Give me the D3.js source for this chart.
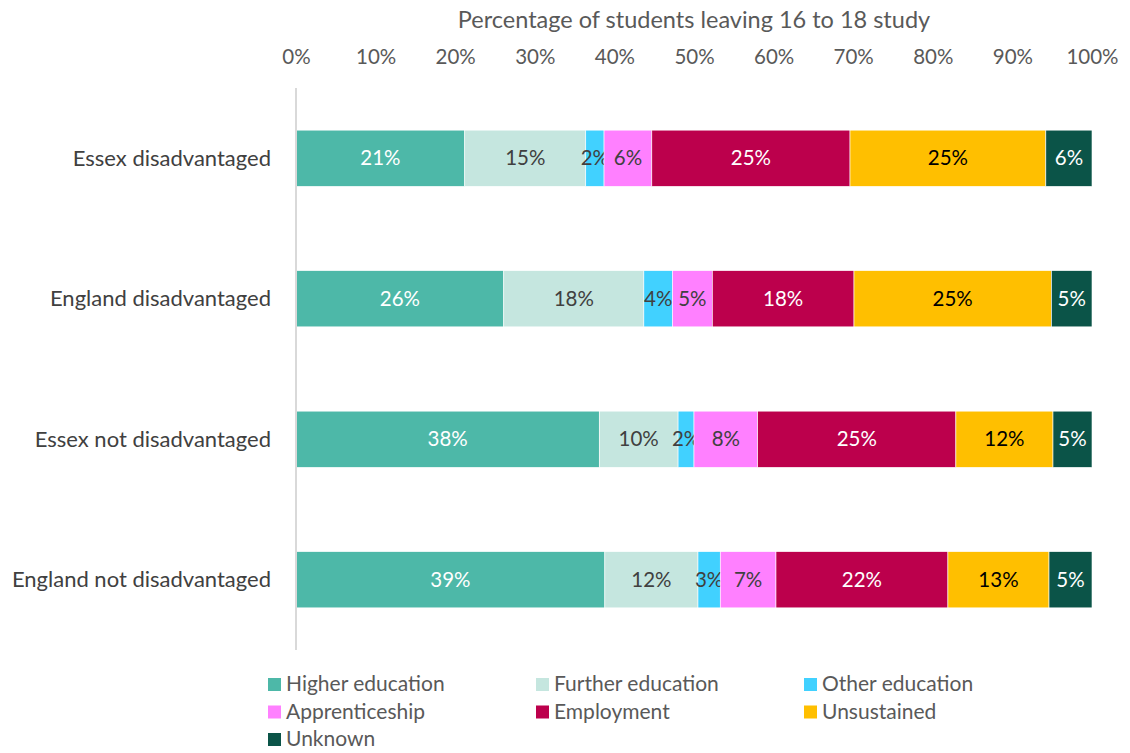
<!DOCTYPE html>
<html>
<head>
<meta charset="utf-8">
<script src="https://cdn.jsdelivr.net/npm/d3@7"></script>
<style>
  body { margin: 0; background: #fff; }
  text { font-family: Lato, "Open Sans", sans-serif; }
</style>
</head>
<body>
<script>
// categories (top to bottom)
var categories = ["Essex disadvantaged", "England disadvantaged", "Essex not disadvantaged", "England not disadvantaged"];
var seriesNames = ["Higher education", "Further education", "Other education", "Apprenticeship", "Employment", "Unsustained", "Unknown"];

// percentages per series, one value per category
var higherEd    = [21.2, 26.1, 38.1, 38.8];
var furtherEd   = [15.2, 17.6, 9.9, 11.7];
var otherEd     = [2.3, 3.6, 2.0, 2.8];
var apprentice  = [6.0, 5.0, 8.0, 7.0];
var employment  = [24.9, 17.8, 24.9, 21.6];
var unsustained = [24.6, 24.8, 12.2, 12.7];
var unknown     = [5.8, 5.1, 4.9, 5.4];

var xTicks = [0, 10, 20, 30, 40, 50, 60, 70, 80, 90, 100];

var colors = ["#4db8a8", "#c5e6df", "#41d1ff", "#ff80ff", "#bc004c", "#ffbf00", "#0b5448"];
var labelColors = ["#ffffff", "#404040", "#404040", "#404040", "#ffffff", "#000000", "#ffffff"];

var seriesVals = [higherEd, furtherEd, otherEd, apprentice, employment, unsustained, unknown];

// build rows for the stack
var rows = categories.map(function(c, i) {
    var r = {cat: c};
    seriesNames.forEach(function(s, j) { r[s] = seriesVals[j][i]; });
    return r;
});

var W = 1130, H = 753;
var margin = {top: 88, right: 38, bottom: 103, left: 296};
var width = W - margin.left - margin.right,
    height = H - margin.top - margin.bottom;

var svg = d3.select("body").append("svg")
    .attr("width", W)
    .attr("height", H);

var g = svg.append("g")
    .attr("transform", "translate(" + margin.left + "," + margin.top + ")");

var x = d3.scaleLinear().domain([0, 100]).range([0, width]);
var y = d3.scaleBand().domain(categories).range([0, height]).paddingInner(0.6).paddingOuter(0.3);

var stacked = d3.stack().keys(seriesNames)(rows);

// bars
var layers = g.selectAll(".layer")
    .data(stacked)
    .enter().append("g")
    .attr("class", "layer")
    .attr("fill", function(d, i) { return colors[i]; });

layers.selectAll("rect")
    .data(function(d) { return d; })
    .enter().append("rect")
    .attr("x", function(d) { return x(d[0]); })
    .attr("y", function(d) { return y(d.data.cat); })
    .attr("width", function(d) { return x(d[1]) - x(d[0]); })
    .attr("height", y.bandwidth())
    .attr("stroke", "#ffffff")
    .attr("stroke-width", 0.6);

// data labels
layers.each(function(s, i) {
    d3.select(this).selectAll("text")
        .data(s)
        .enter().append("text")
        .attr("x", function(d) { return x((d[0] + d[1]) / 2); })
        .attr("y", function(d) { return y(d.data.cat) + y.bandwidth() / 2; })
        .attr("dy", "0.35em")
        .attr("text-anchor", "middle")
        .attr("fill", labelColors[i])
        .style("font-size", "20.5px")
        .text(function(d) { return Math.round(d.data[s.key]) + "%"; });
});

// left axis line
g.append("line")
    .attr("x1", 0).attr("x2", 0)
    .attr("y1", 0).attr("y2", height)
    .attr("stroke", "#d9d9d9")
    .attr("stroke-width", 2);

// category labels
g.selectAll(".cat")
    .data(categories)
    .enter().append("text")
    .attr("x", -25)
    .attr("y", function(d) { return y(d) + y.bandwidth() / 2; })
    .attr("dy", "0.35em")
    .attr("text-anchor", "end")
    .attr("fill", "#404040")
    .style("font-size", "22px")
    .text(function(d) { return d; });

// top axis
var xAxis = g.append("g")
    .call(d3.axisTop(x).tickValues(xTicks).tickSize(0).tickPadding(0)
        .tickFormat(function(d) { return d + "%"; }));
xAxis.select(".domain").remove();
xAxis.selectAll("text")
    .attr("y", -24)
    .attr("fill", "#595959")
    .style("font-size", "20.5px")
    .style("font-family", "Lato, 'Open Sans', sans-serif");

// axis title
svg.append("text")
    .attr("x", margin.left + width / 2)
    .attr("y", 28)
    .attr("text-anchor", "middle")
    .attr("fill", "#595959")
    .style("font-size", "23.5px")
    .text("Percentage of students leaving 16 to 18 study");

// legend
var legend = svg.append("g");
var item = legend.selectAll(".item")
    .data(seriesNames)
    .enter().append("g")
    .attr("transform", function(d, i) {
        return "translate(" + (268 + (i % 3) * 268) + "," + (684 + Math.floor(i / 3) * 27.5) + ")";
    });
item.append("rect")
    .attr("x", 0).attr("y", -6)
    .attr("width", 13).attr("height", 13)
    .attr("fill", function(d, i) { return colors[i]; });
item.append("text")
    .attr("x", 18)
    .attr("dy", "0.35em")
    .attr("fill", "#595959")
    .style("font-size", "21px")
    .text(function(d) { return d; });
</script>
</body>
</html>
